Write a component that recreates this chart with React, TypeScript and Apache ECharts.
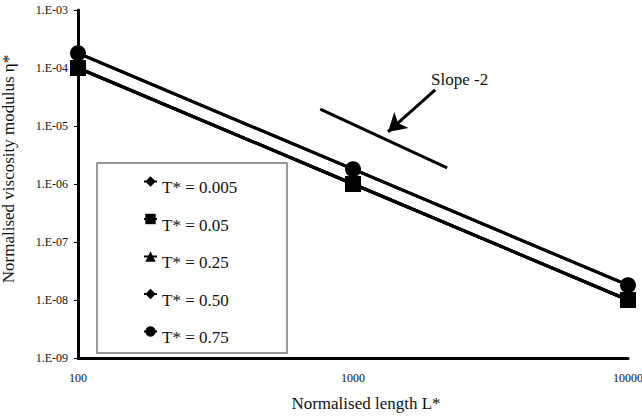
import React, { useEffect, useRef } from "react";
import * as echarts from "echarts";

// Data
const lengths = [100, 1000, 10000];
const seriesNames = ["T* = 0.005", "T* = 0.05", "T* = 0.25", "T* = 0.50", "T* = 0.75"];
const seriesSymbols = ["diamond", "rect", "triangle", "diamond", "circle"];
const eta_0005 = [1.0e-4, 1.0e-6, 1.0e-8];
const eta_005 = [1.0e-4, 1.0e-6, 1.0e-8];
const eta_025 = [1.0e-4, 1.0e-6, 1.0e-8];
const eta_050 = [1.8e-4, 1.8e-6, 1.8e-8];
const eta_075 = [1.8e-4, 1.8e-6, 1.8e-8];
const seriesValues = [eta_0005, eta_005, eta_025, eta_050, eta_075];

// Slope -2 guide line and arrow (data coordinates)
const slopeLineX = [760, 2200];
const slopeLineY = [1.95e-5, 1.9e-6];
const arrowTail = [1990, 4.2e-5];
const arrowTip = [1340, 7.9e-6];

const FONT = "Liberation Serif";

function fmtExp(v: number) {
  const e = Math.round(Math.log10(v));
  const s = String(Math.abs(e)).padStart(2, "0");
  return `1.E${e < 0 ? "-" : "+"}${s}`;
}

export default function App() {
  const ref = useRef<HTMLDivElement>(null);
  useEffect(() => {
    if (!ref.current) return;
    const chart = echarts.init(ref.current, null, { renderer: "svg" });
    const dataSeries = seriesNames.map((name, i) => ({
      name,
      type: "line",
      data: lengths.map((x, j) => [x, seriesValues[i][j]]),
      symbol: seriesSymbols[i],
      symbolSize: 16,
      itemStyle: { color: "#000" },
      lineStyle: { color: "#000", width: 3 },
      z: 3 + i,
    }));
    const slopeSeries = {
      name: "slope",
      type: "line",
      data: slopeLineX.map((x, j) => [x, slopeLineY[j]]),
      symbol: "none",
      lineStyle: { color: "#000", width: 3 },
      markLine: {
        silent: true,
        symbol: ["none", "arrow"],
        symbolSize: [16, 18],
        label: { show: false },
        lineStyle: { color: "#000", width: 3, type: "solid" },
        data: [[{ coord: arrowTail }, { coord: arrowTip }]],
      },
    };
    chart.setOption({
      animation: false,
      backgroundColor: "#fff",
      grid: {
        left: 78,
        right: 14,
        top: 10,
        bottom: 61,
        containLabel: false,
        outerBoundsMode: "none",
      },
      legend: {
        data: seriesNames,
        orient: "vertical",
        left: 143,
        top: 167,
        padding: 0,
        itemWidth: 13,
        itemHeight: 13,
        itemGap: 8.5,
        formatter: (name: string) => `{t|${name}}`,
        textStyle: {
          fontFamily: FONT,
          fontSize: 17,
          color: "#111",
          rich: {
            t: {
              fontFamily: FONT,
              fontSize: 17,
              color: "#111",
              lineHeight: 17,
              padding: [12, 0, 0, 0],
            },
          },
        },
      },
      graphic: [
        {
          type: "rect",
          shape: { x: 97, y: 163, width: 190, height: 190 },
          style: { fill: "#fff", stroke: "#777", lineWidth: 1.5 },
          z: 1,
          silent: true,
        },
        {
          type: "text",
          left: 431,
          top: 71,
          style: { text: "Slope -2", fontFamily: FONT, fontSize: 17, fill: "#111" },
        },
      ],
      xAxis: {
        type: "log",
        min: 100,
        max: 10000,
        logBase: 10,
        name: "Normalised length L*",
        nameLocation: "middle",
        nameGap: 37,
        nameTextStyle: { fontFamily: FONT, fontSize: 17, color: "#111", padding: [0, 0, 0, 26] },
        axisLine: { lineStyle: { color: "#000", width: 3 } },
        axisTick: { show: false },
        splitLine: { show: false },
        minorTick: { show: false },
        axisLabel: {
          fontFamily: FONT,
          fontSize: 12,
          color: "#111",
          margin: 14,
          formatter: (v: number) => String(Math.round(v)),
        },
      },
      yAxis: {
        type: "log",
        min: 1e-9,
        max: 1e-3,
        logBase: 10,
        name: "Normalised viscosity modulus \u03b7*",
        nameLocation: "middle",
        nameGap: 61,
        nameTextStyle: { fontFamily: FONT, fontSize: 17, color: "#111", padding: [0, 0, 0, 30] },
        axisLine: { lineStyle: { color: "#000", width: 3 } },
        axisTick: { show: true, length: 4, lineStyle: { color: "#000", width: 1 } },
        splitLine: { show: false },
        axisLabel: {
          fontFamily: FONT,
          fontSize: 12,
          color: "#111",
          margin: 10,
          formatter: (v: number) => fmtExp(v),
        },
      },
      series: [...dataSeries, slopeSeries],
    });
    return () => chart.dispose();
  }, []);
  return (
    <div
      ref={ref}
      style={{ position: "fixed", left: 0, top: 0, width: 642, height: 419, background: "#fff" }}
    />
  );
}
